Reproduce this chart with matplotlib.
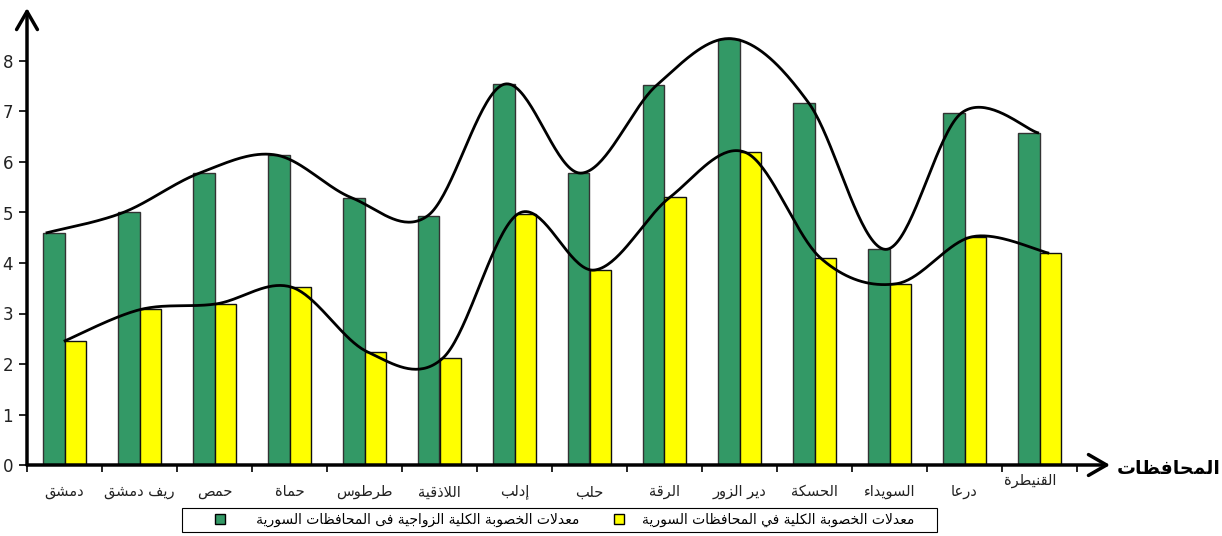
import numpy as np
import matplotlib
matplotlib.use("Agg")
import matplotlib.pyplot as plt
from matplotlib.patches import Patch, Rectangle

# ---------------- data ----------------
categories = ["دمشق", "ريف دمشق", "حمص", "حماة", "طرطوس", "اللاذقية", "إدلب",
              "حلب", "الرقة", "دير الزور", "الحسكة", "السويداء", "درعا", "القنيطرة"]
marital_tfr = [4.60, 5.00, 5.78, 6.14, 5.29, 4.94, 7.54, 5.78, 7.52, 8.44, 7.16, 4.27, 6.97, 6.58]
total_tfr = [2.46, 3.08, 3.19, 3.52, 2.24, 2.12, 4.98, 3.86, 5.30, 6.19, 4.09, 3.59, 4.52, 4.20]
yticks = [0, 1, 2, 3, 4, 5, 6, 7, 8]
label_marital = "معدلات الخصوبة الكلية الزواجية فى المحافظات السورية"
label_total = "معدلات الخصوبة الكلية في المحافظات السورية"
axis_label = "المحافظات"

# ---------------- minimal Arabic shaping (presentation forms + RTL) ----------------
DUAL = {'ئ': 0xFE89, 'ب': 0xFE8F, 'ت': 0xFE95, 'ث': 0xFE99, 'ج': 0xFE9D, 'ح': 0xFEA1,
        'خ': 0xFEA5, 'س': 0xFEB1, 'ش': 0xFEB5, 'ص': 0xFEB9, 'ض': 0xFEBD, 'ط': 0xFEC1,
        'ظ': 0xFEC5, 'ع': 0xFEC9, 'غ': 0xFECD, 'ف': 0xFED1, 'ق': 0xFED5, 'ك': 0xFED9,
        'ل': 0xFEDD, 'م': 0xFEE1, 'ن': 0xFEE5, 'ه': 0xFEE9, 'ي': 0xFEF1}
RIGHT = {'آ': 0xFE81, 'أ': 0xFE83, 'ؤ': 0xFE85, 'إ': 0xFE87, 'ا': 0xFE8D, 'ة': 0xFE93,
         'د': 0xFEA9, 'ذ': 0xFEAB, 'ر': 0xFEAD, 'ز': 0xFEAF, 'و': 0xFEED, 'ى': 0xFEEF}
NONJ = {'ء': 0xFE80}
LAMALEF = {'آ': 0xFEF5, 'أ': 0xFEF7, 'إ': 0xFEF9, 'ا': 0xFEFB}


def ar(s):
    toks = []
    i = 0
    while i < len(s):
        c = s[i]
        if c == 'ل' and i + 1 < len(s) and s[i + 1] in LAMALEF:
            toks.append(('R', LAMALEF[s[i + 1]]))
            i += 2
            continue
        if c in DUAL:
            toks.append(('D', DUAL[c]))
        elif c in RIGHT:
            toks.append(('R', RIGHT[c]))
        elif c in NONJ:
            toks.append(('U', NONJ[c]))
        else:
            toks.append(('X', c))
        i += 1
    out = []
    for j, (k, b) in enumerate(toks):
        if k == 'X':
            out.append(b)
            continue
        prev = j > 0 and toks[j - 1][0] == 'D' and k in 'DR'
        nxt = k == 'D' and j + 1 < len(toks) and toks[j + 1][0] in 'DR'
        if k == 'D':
            out.append(chr(b + (1 if prev else 0) + (2 if nxt else 0)))
        elif k == 'R':
            out.append(chr(b + (1 if prev else 0)))
        else:
            out.append(chr(b))
    return ''.join(out[::-1])


def smooth(xs, ys, n=40):
    """Excel-style smoothed line (Catmull-Rom as cubic Bezier)."""
    P = np.column_stack([xs, ys]).astype(float)
    Pe = np.vstack([P[0], P, P[-1]])
    pts = []
    t = np.linspace(0, 1, n)[:, None]
    for i in range(len(P) - 1):
        p0, p3 = Pe[i + 1], Pe[i + 2]
        c1 = p0 + (Pe[i + 2] - Pe[i]) / 6.0
        c2 = p3 - (Pe[i + 3] - Pe[i + 1]) / 6.0
        seg = (1 - t) ** 3 * p0 + 3 * (1 - t) ** 2 * t * c1 + 3 * (1 - t) * t ** 2 * c2 + t ** 3 * p3
        pts.append(seg if i == 0 else seg[1:])
    pts = np.vstack(pts)
    return pts[:, 0], pts[:, 1]


plt.rcParams['font.family'] = ['DejaVu Sans']

W, H = 1222, 536
fig = plt.figure(figsize=(W / 100, H / 100), dpi=100)
ax = fig.add_axes([27 / W, (H - 465) / H, (1110 - 27) / W, (465 - 8) / H])

x = np.arange(len(categories))
bw = 0.287
green = '#339966'
yellow = '#FFFF00'
ax.bar(x - bw / 2, marital_tfr, bw, color=green, edgecolor='#333333', linewidth=1.0, zorder=2)
ax.bar(x + bw / 2, total_tfr, bw, color=yellow, edgecolor='#111111', linewidth=1.0, zorder=2)

# smoothed overlay curves (overlay is slightly offset/stretched relative to bars)
xu = -0.233 + 1.016 * x
xl = 0.007 + 1.008 * x
cx, cy = smooth(xu, marital_tfr)
ax.plot(cx, cy, color='black', lw=2.0, zorder=3)
cx, cy = smooth(xl, total_tfr)
ax.plot(cx, cy, color='black', lw=2.0, zorder=3)

ax.set_xlim(-0.5, -0.5 + (1110 - 27) / 75)
ax.set_ylim(0, (465 - 8) / 50.5)
for s in ax.spines.values():
    s.set_visible(False)

# axes arrows
arrow_kw = dict(arrowstyle='->,head_length=1.3,head_width=0.75', lw=2.5, color='black',
                shrinkA=0, shrinkB=0, mutation_scale=10)
ax.annotate('', xy=(0, 1.0), xytext=(0, 0), xycoords='axes fraction',
            arrowprops=arrow_kw, annotation_clip=False, zorder=5)
ax.annotate('', xy=(1.0, 0), xytext=(0, 0), xycoords='axes fraction',
            arrowprops=arrow_kw, annotation_clip=False, zorder=5)

ax.set_yticks(yticks)
ax.set_yticklabels([str(v) for v in yticks], fontsize=12, color='#222222')
ax.tick_params(axis='y', direction='out', length=6, width=1.2, pad=4)
ax.set_xticks(np.arange(-0.5, len(categories), 1.0))
ax.set_xticklabels([])
ax.tick_params(axis='x', direction='out', length=5, width=1.2)

for i, c in enumerate(categories):
    if i == len(categories) - 1:
        ax.annotate(ar(c), xy=(i - 0.12, 0), xycoords=('data', 'axes fraction'),
                    xytext=(0, -6), textcoords='offset points', ha='center', va='top',
                    fontsize=10.5, color='#222222')
    else:
        ax.annotate(ar(c), xy=(i, 0), xycoords=('data', 'axes fraction'),
                    xytext=(0, -14), textcoords='offset points', ha='center', va='top',
                    fontsize=10.5, color='#222222')

fig.text(1221 / W, (H - 468) / H, ar(axis_label), ha='right', va='center',
         fontsize=13.5, fontweight='bold', color='black')

# legend (frame drawn separately to match the asymmetric padding of the original)
handles = [Patch(facecolor=green, edgecolor='black', lw=1.0),
           Patch(facecolor=yellow, edgecolor='black', lw=1.0)]
leg = fig.legend(handles, ['   ' + ar(label_marital), ar(label_total)], ncol=2,
                 loc='center left', bbox_to_anchor=(215 / W, (H - 520) / H),
                 fontsize=10.0, frameon=False, handlelength=0.72, handleheight=0.72,
                 handletextpad=1.3, columnspacing=2.5, borderpad=0, borderaxespad=0)
fig.patches.append(Rectangle((182 / W, (H - 532) / H), (937 - 182) / W, 24 / H,
                             transform=fig.transFigure, fill=False, edgecolor='black', lw=0.8))

fig.savefig('out.png', dpi=100)
